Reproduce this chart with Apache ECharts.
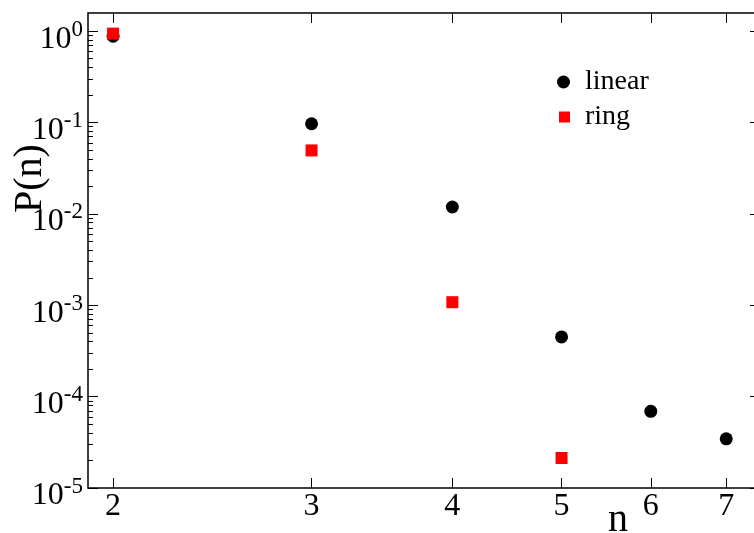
<!DOCTYPE html>
<html>
<head>
<meta charset="utf-8">
<script src="https://cdn.jsdelivr.net/npm/echarts@6/dist/echarts.min.js"></script>
<style>
html,body{margin:0;padding:0;background:#fff;}
#c{width:754px;height:533px;}
</style>
</head>
<body>
<div id="c"></div>
<script>
// ---- data ----
const linearN = [2, 3, 4, 5, 6, 7];
const linearP = [0.88, 0.097, 0.0119, 0.00045, 0.000069, 0.0000345];
const ringN = [2, 3, 4, 5];
const ringP = [0.94, 0.0495, 0.00108, 0.0000213];
// ---- axis ticks / ranges ----
const xTicks = [2, 3, 4, 5, 6, 7];
const yDecades = [-5, -4, -3, -2, -1, 0];
const xRange = [1.9, 7.5];
const yRange = [1e-5, 1.58];

const FONT = "'Liberation Serif','Times New Roman',serif";
const lg = Math.log10;
const xMin = lg(xRange[0]), xMax = lg(xRange[1]);
const yMin = lg(yRange[0]), yMax = lg(yRange[1]);
const xTickPos = xTicks.map(lg);
const yMinorPos = [];
yDecades.slice(0, -1).forEach(function (k) {
  for (let m = 2; m <= 9; m++) yMinorPos.push(k + lg(m));
});

const tickLine = { color: '#000', width: 1 };

function helperAxis(extra) {
  return Object.assign({
    type: 'value',
    gridIndex: 0,
    axisLine: { show: false, onZero: false },
    splitLine: { show: false },
    axisLabel: { show: false },
    axisTick: { show: false },
    nameMoveOverlap: false
  }, extra);
}

const chart = echarts.init(document.getElementById('c'), null, { renderer: 'canvas' });

const option = {
  animation: false,
  backgroundColor: '#fff',
  grid: {
    left: 88, top: 13, right: -6, bottom: 45,
    show: true, borderColor: '#000', borderWidth: 1.5,
    backgroundColor: 'transparent',
    containLabel: false, outerBoundsMode: 'none'
  },
  legend: [
    {
      data: [{ name: 'linear', icon: 'circle' }],
      left: 557, top: 68, padding: 0,
      itemWidth: 33, itemHeight: 13,
      selectedMode: false,
      textStyle: { fontFamily: FONT, fontSize: 28, color: '#000' }
    },
    {
      data: [{ name: 'ring', icon: 'rect' }],
      left: 559, top: 103, padding: 0,
      itemWidth: 11, itemHeight: 11,
      selectedMode: false,
      textStyle: { fontFamily: FONT, fontSize: 28, color: '#000', padding: [0, 0, 0, 10] }
    }
  ],
  xAxis: [
    {
      type: 'log', logBase: 10, min: xRange[0], max: xRange[1],
      position: 'bottom', show: false, axisLine: { onZero: false }
    },
    helperAxis({
      min: xMin, max: xMax, position: 'bottom',
      axisTick: { show: true, inside: true, length: 10, customValues: xTickPos, lineStyle: tickLine },
      axisLabel: {
        show: true, customValues: xTickPos, margin: 3,
        formatter: function (v) { return String(Math.round(Math.pow(10, v))); },
        color: '#000', fontFamily: FONT, fontSize: 32
      },
      name: 'n', nameLocation: 'end', nameGap: -152,
      nameTextStyle: { fontFamily: FONT, fontSize: 40, color: '#000', align: 'left', verticalAlign: 'top', padding: [12, 0, 0, 0] }
    }),
    helperAxis({
      min: xMin, max: xMax, position: 'top',
      axisTick: { show: true, inside: true, length: 10, customValues: xTickPos, lineStyle: tickLine }
    })
  ],
  yAxis: [
    {
      type: 'log', logBase: 10, min: yRange[0], max: yRange[1],
      position: 'left', show: false, axisLine: { onZero: false }
    },
    helperAxis({
      min: yMin, max: yMax, position: 'left',
      axisTick: { show: true, inside: true, length: 10, customValues: yDecades, lineStyle: tickLine },
      axisLabel: {
        show: true, customValues: yDecades, margin: 5,
        formatter: function (v) { return '{b|10}{s|' + Math.round(v) + '}'; },
        color: '#000', fontFamily: FONT,
        rich: {
          b: { fontFamily: FONT, fontSize: 32, color: '#000', padding: [16, 0, 0, 0], verticalAlign: 'bottom' },
          s: { fontFamily: FONT, fontSize: 23, color: '#000', padding: [11, 0, 0, 0], verticalAlign: 'top' }
        }
      },
      name: 'P(n)', nameLocation: 'middle', nameRotate: 90, nameGap: 38,
      nameTextStyle: { fontFamily: FONT, fontSize: 40, color: '#000', padding: [0, 0, 0, 144] }
    }),
    helperAxis({
      min: yMin, max: yMax, position: 'left',
      axisTick: { show: true, inside: true, length: 5, customValues: yMinorPos, lineStyle: tickLine }
    }),
    helperAxis({
      min: yMin, max: yMax, position: 'right',
      axisTick: { show: true, inside: true, length: 10, customValues: yDecades, lineStyle: tickLine }
    }),
    helperAxis({
      min: yMin, max: yMax, position: 'right',
      axisTick: { show: true, inside: true, length: 5, customValues: yMinorPos, lineStyle: tickLine }
    })
  ],
  series: [
    {
      name: 'linear', type: 'scatter', xAxisIndex: 0, yAxisIndex: 0,
      symbol: 'circle', symbolSize: 13,
      itemStyle: { color: '#000', opacity: 1 },
      data: linearN.map(function (n, i) { return [n, linearP[i]]; })
    },
    {
      name: 'ring', type: 'scatter', xAxisIndex: 0, yAxisIndex: 0,
      symbol: 'rect', symbolSize: 12,
      itemStyle: { color: '#ff0000', opacity: 1 },
      data: ringN.map(function (n, i) { return [n, ringP[i]]; })
    }
  ]
};
chart.setOption(option);
</script>
</body>
</html>
